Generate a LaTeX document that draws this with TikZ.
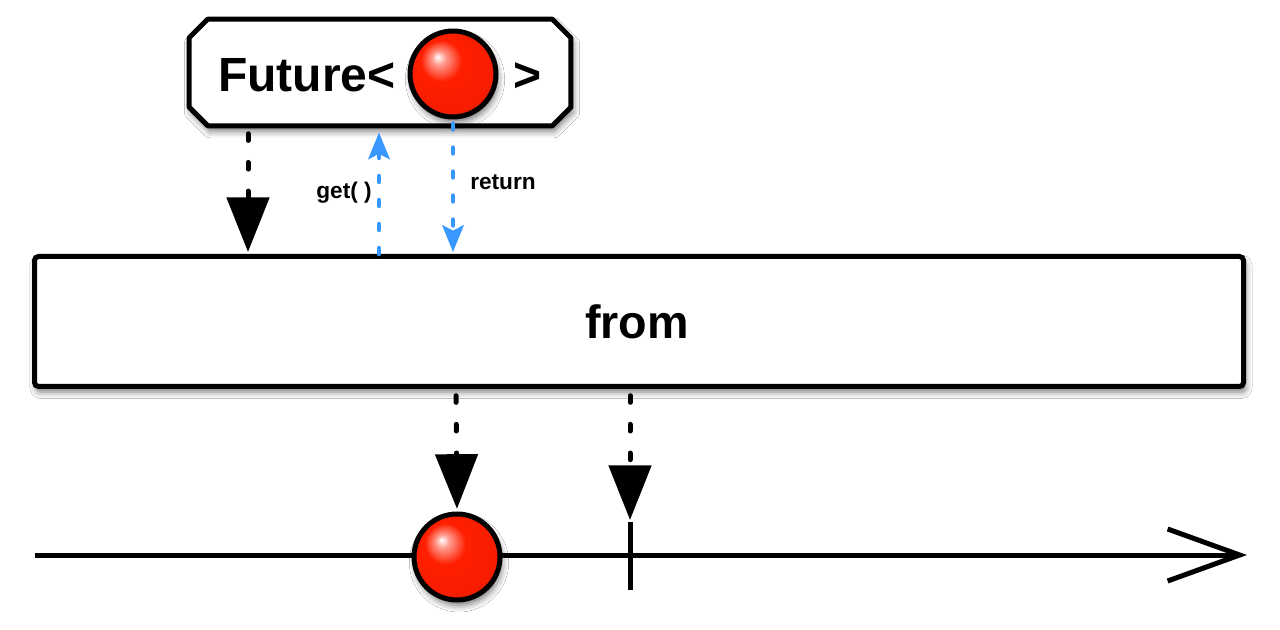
\documentclass[tikz,border=0pt]{standalone}
\usepackage{fontspec}
\setmainfont{Liberation Sans}
\usetikzlibrary{arrows.meta,shadows.blur}
\definecolor{bred}{RGB}{255,30,0}
\definecolor{lblue}{RGB}{56,152,255}
\pgfdeclareradialshading{redball}{\pgfqpoint{-9bp}{10bp}}{color(0bp)=(white); color(4bp)=(white!55!bred); color(12bp)=(bred); color(27bp)=(bred!97!black); color(36bp)=(bred!60!black); color(50bp)=(bred!45!black)}
\tikzset{
  shad/.style={blur shadow={shadow xshift=1.5pt, shadow yshift=-4pt, shadow blur radius=5pt, shadow opacity=55}},
  box/.style={draw=black, line width=3.75pt, fill=white, shad},
  rball/.style={circle, draw=black, line width=3.75pt, minimum size=64.5pt, inner sep=0pt, shading=redball, shad},
  bdash/.style={draw=black, line width=3.75pt, line cap=round, dash pattern=on 5pt off 16.5pt},
  bluedash/.style={draw=lblue, line width=3.3pt, line cap=round, dash pattern=on 4.5pt off 13.5pt},
  btip/.style={-{Triangle[length=41pt, width=31.5pt]}},
  bluetip/.style={-{Stealth[length=20pt, width=16pt, inset=4pt]}},
  big/.style={font=\fontsize{36}{40}\selectfont\bfseries, inner sep=0pt},
  small/.style={font=\fontsize{17}{20}\selectfont\bfseries, inner sep=0pt}
}
\begin{document}
\begin{tikzpicture}[x=0.75pt, y=-0.75pt]
\fill[white] (0,0) rectangle (1280,630);
\useasboundingbox (0,0) rectangle (1280,630);

% Future box (chamfered corners)
\node[rectangle, minimum width=286pt, minimum height=79.5pt, inner sep=0pt] (fut) at (380,72.5) {};
\draw[box, line join=round]
  ([xshift=14pt]fut.north west) -- ([xshift=-14pt]fut.north east)
  -- ([yshift=-14pt]fut.north east) -- ([yshift=14pt]fut.south east)
  -- ([xshift=-14pt]fut.south east) -- ([xshift=14pt]fut.south west)
  -- ([yshift=14pt]fut.south west) -- ([yshift=-14pt]fut.north west) -- cycle;
\node[big, anchor=base west] (futtxt) at (218,92) {Future<};
\node[rball] (ball1) at (453,74) {};
\node[big, anchor=base west] (gt) at (513,92) {>};

% from box
\node[box, rectangle, rounded corners=3pt, minimum width=906.75pt, minimum height=97.5pt, inner sep=0pt] (from) at (639,321.5) {};
\node[font=\fontsize{35}{40}\selectfont\bfseries, inner sep=0pt] (fromtxt) at (637,322) {from};

% column coordinates
\coordinate (c1) at (248,0);
\coordinate (c2) at (379,0);
\coordinate (c4) at (456,0);
\coordinate (c5) at (630,0);

% timeline
\coordinate (tl0) at (35,555);
\coordinate (tl1) at (1247,555);
\draw[line width=3.75pt, -{Straight Barb[length=54pt, width=39pt]}] (tl0) -- (tl1);
\coordinate (tickT) at (630,522);
\coordinate (tickB) at (630,590);
\draw[line width=3.75pt] (tickT) -- (tickB);
\node[rball] (ball2) at (457,557) {};

% arrows
\draw[bdash, btip, shorten <=6pt, shorten >=1.5pt] (c1 |- fut.south) -- (c1 |- from.north);
\draw[bluedash, bluetip, shorten >=5pt] (c2 |- from.north) -- (c2 |- fut.south);
\draw[bluedash, bluetip, shorten <=3pt, shorten >=1.5pt] (ball1.south) -- (ball1.south |- from.north);
\draw[bdash, btip, shorten <=5pt, shorten >=2pt] (c4 |- from.south) -- (ball2.north);
\draw[bdash, btip, shorten <=5pt, shorten >=1.5pt] (c5 |- from.south) -- (tickT);

% labels
\node[small, anchor=east] (getlbl) at (372,193) {get( )};
\node[small, anchor=west] (retlbl) at (470,182) {return};
\end{tikzpicture}
\end{document}
